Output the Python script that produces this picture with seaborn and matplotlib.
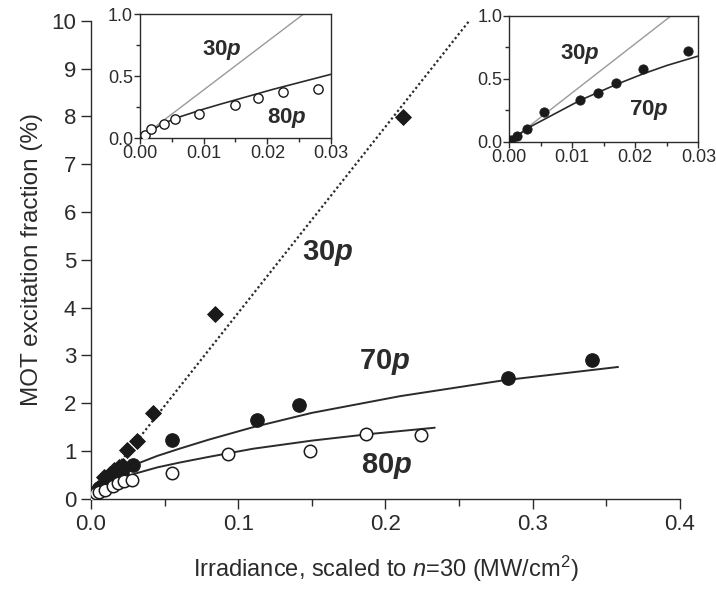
import numpy as np
import pandas as pd
import matplotlib
matplotlib.use("Agg")
import matplotlib.pyplot as plt
from matplotlib.ticker import MultipleLocator, FormatStrFormatter
import seaborn as sns

# данные: 30p (ромбы), 70p (закрашенные), 80p (пустые круги)
x30 = [0.0045, 0.009, 0.013, 0.016, 0.019, 0.022, 0.0245, 0.031, 0.0419, 0.0842, 0.212]
y30 = [0.22, 0.45, 0.52, 0.60, 0.66, 0.70, 1.03, 1.21, 1.79, 3.87, 7.99]

x70 = [0.00027, 0.00127, 0.00276, 0.00556, 0.0113, 0.0141, 0.0169, 0.0213, 0.0284,
       0.0552, 0.1129, 0.1414, 0.2833, 0.3403]
y70 = [0.013, 0.048, 0.098, 0.233, 0.331, 0.384, 0.468, 0.574, 0.72,
       1.23, 1.65, 1.96, 2.52, 2.90]

x80 = [0.0008, 0.0018, 0.0037, 0.0055, 0.0093, 0.0149, 0.0186, 0.0224, 0.028,
       0.0552, 0.0932, 0.149, 0.1867, 0.2245]
y80 = [0.027, 0.072, 0.115, 0.155, 0.195, 0.265, 0.327, 0.37, 0.397,
       0.55, 0.93, 1.01, 1.35, 1.33]

# линия 30p и подгоночные кривые
line30_x = [0.0, 0.257]
line30_y = [0.0, 10.0]

fit70_x = [0.002, 0.01, 0.02, 0.03, 0.045, 0.06, 0.08, 0.11, 0.15, 0.21, 0.28, 0.358]
fit70_y = [0.09, 0.33, 0.55, 0.72, 0.90, 1.05, 1.24, 1.50, 1.80, 2.15, 2.48, 2.76]

fit80_x = [0.002, 0.01, 0.02, 0.03, 0.045, 0.06, 0.08, 0.11, 0.15, 0.19, 0.2335]
fit80_y = [0.07, 0.25, 0.40, 0.53, 0.66, 0.76, 0.88, 1.05, 1.22, 1.36, 1.49]

# кривые во вставках
ins80_x = [0.0, 0.003, 0.0055, 0.01, 0.013, 0.0209, 0.03]
ins80_y = [0.0, 0.10, 0.16, 0.235, 0.28, 0.394, 0.515]
ins70_x = [0.0, 0.003, 0.0113, 0.017, 0.0213, 0.025, 0.03]
ins70_y = [0.0, 0.11, 0.33, 0.455, 0.54, 0.605, 0.68]

sns.set_theme(style="ticks")
plt.rcParams['font.family'] = ['Liberation Sans', 'DejaVu Sans']
plt.rcParams['mathtext.fontset'] = 'custom'
plt.rcParams['mathtext.rm'] = 'Liberation Sans'
plt.rcParams['mathtext.it'] = 'Liberation Sans:italic'
plt.rcParams['mathtext.bf'] = 'Liberation Sans:bold'
plt.rcParams['mathtext.bfit'] = 'Liberation Sans:italic:bold'

ink = '#2b2b2b'
plt.rcParams['text.color'] = ink
plt.rcParams['axes.labelcolor'] = ink
plt.rcParams['xtick.color'] = ink
plt.rcParams['ytick.color'] = ink
plt.rcParams['axes.edgecolor'] = ink

fig = plt.figure(figsize=(7.16, 5.91), dpi=100)
ax = fig.add_axes([0.127, 0.1557, 0.8226, 0.8093])

sns.lineplot(x=line30_x, y=line30_y, ax=ax, color=ink, lw=1.6, linestyle=(0, (1, 1.2)), estimator=None, sort=False)
sns.lineplot(x=fit70_x, y=fit70_y, ax=ax, color=ink, lw=1.4, estimator=None, sort=False)
sns.lineplot(x=fit80_x, y=fit80_y, ax=ax, color=ink, lw=1.4, estimator=None, sort=False)

sns.scatterplot(x=x30, y=y30, ax=ax, marker='D', s=65, color='#1a1a1a', edgecolor='#1a1a1a', zorder=3)
sns.scatterplot(x=x70, y=y70, ax=ax, marker='o', s=95, color='#1a1a1a', edgecolor='#1a1a1a', zorder=3)
sns.scatterplot(x=x80, y=y80, ax=ax, marker='o', s=80, facecolor='white', edgecolor='#1a1a1a', linewidth=1.1, zorder=4)

ax.set_xlim(0, 0.4)
ax.set_ylim(0, 10)
ax.xaxis.set_major_locator(MultipleLocator(0.1))
ax.xaxis.set_minor_locator(MultipleLocator(0.05))
ax.yaxis.set_major_locator(MultipleLocator(1))
ax.xaxis.set_major_formatter(FormatStrFormatter('%.1f'))
ax.tick_params(which='major', direction='out', length=7, width=1, labelsize=16)
ax.tick_params(which='minor', direction='out', length=5, width=1)
sns.despine(ax=ax)
ax.spines['left'].set_linewidth(1)
ax.spines['bottom'].set_linewidth(1)
ax.set_xlabel('Irradiance, scaled to $\\it{n}$=30 (MW/cm$^2$)', fontsize=17, labelpad=14)
ax.set_ylabel('MOT excitation fraction (%)', fontsize=17.5, labelpad=6)

ax.text(0.161, 5.14, r'30$\mathbfit{p}$', fontsize=21, fontweight='bold', ha='center', va='center')
ax.text(0.1996, 2.86, r'70$\mathbfit{p}$', fontsize=21, fontweight='bold', ha='center', va='center')
ax.text(0.201, 0.68, r'80$\mathbfit{p}$', fontsize=21, fontweight='bold', ha='center', va='center')


def style_inset(a):
    a.set_xlim(0, 0.03)
    a.set_ylim(0, 1.0)
    a.xaxis.set_major_locator(MultipleLocator(0.01))
    a.xaxis.set_minor_locator(MultipleLocator(0.005))
    a.yaxis.set_major_locator(MultipleLocator(0.5))
    a.yaxis.set_minor_locator(MultipleLocator(0.25))
    a.xaxis.set_major_formatter(FormatStrFormatter('%.2f'))
    a.yaxis.set_major_formatter(FormatStrFormatter('%.1f'))
    a.tick_params(which='major', direction='out', length=4, width=1, labelsize=13, pad=1)
    a.tick_params(which='minor', direction='out', length=3, width=1)
    for s in a.spines.values():
        s.set_linewidth(1)
    a.set_xlabel('')
    a.set_ylabel('')


# вставка слева: 80p
axl = fig.add_axes([0.1955, 0.766, 0.2668, 0.2103])
sns.lineplot(x=line30_x, y=line30_y, ax=axl, color='#9a9a9a', lw=1.0, estimator=None, sort=False)
sns.lineplot(x=ins80_x, y=ins80_y, ax=axl, color=ink, lw=1.2, estimator=None, sort=False)
sns.scatterplot(x=x80, y=y80, ax=axl, marker='o', s=45, facecolor='white', edgecolor='#1a1a1a', linewidth=1.0, zorder=4)
style_inset(axl)
axl.text(0.01283, 0.71, r'30$\mathbfit{p}$', fontsize=16, fontweight='bold', ha='center', va='center')
axl.text(0.0230, 0.16, r'80$\mathbfit{p}$', fontsize=16, fontweight='bold', ha='center', va='center')

# вставка справа: 70p
axr = fig.add_axes([0.7113, 0.7602, 0.264, 0.2132])
sns.lineplot(x=line30_x, y=line30_y, ax=axr, color='#9a9a9a', lw=1.0, estimator=None, sort=False)
sns.lineplot(x=ins70_x, y=ins70_y, ax=axr, color=ink, lw=1.2, estimator=None, sort=False)
sns.scatterplot(x=x70, y=y70, ax=axr, marker='o', s=45, color='#1a1a1a', edgecolor='#1a1a1a', zorder=4)
style_inset(axr)
axr.text(0.01122, 0.70, r'30$\mathbfit{p}$', fontsize=16, fontweight='bold', ha='center', va='center')
axr.text(0.0221, 0.25, r'70$\mathbfit{p}$', fontsize=16, fontweight='bold', ha='center', va='center')

fig.savefig('out.png', dpi=100)
